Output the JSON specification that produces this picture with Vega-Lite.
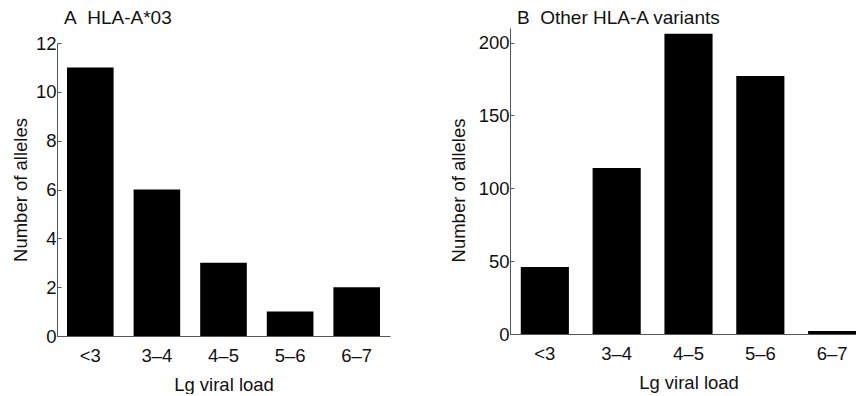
{
  "$schema": "https://vega.github.io/schema/vega-lite/v6.json",
  "background": "white",
  "padding": {"left": 11, "top": 9, "right": 0, "bottom": 0},
  "spacing": 59,
  "config": {
    "font": "Liberation Sans",
    "view": {"stroke": null},
    "axis": {
      "grid": false,
      "domainColor": "#555555",
      "tickColor": "#555555",
      "labelFont": "Liberation Sans",
      "titleFont": "Liberation Sans",
      "labelFontSize": 18.5,
      "titleFontSize": 18.5,
      "titleFontWeight": "normal",
      "labelColor": "#111111",
      "titleColor": "#111111"
    },
    "title": {"font": "Liberation Sans", "fontSize": 19, "fontWeight": "normal", "anchor": "start", "frame": "group", "color": "#111111"}
  },
  "hconcat": [
    {
      "width": 333,
      "height": 308,
      "title": {"text": "A\u00a0\u00a0HLA-A*03", "offset": 0, "dx": 7},
      "data": {"values": [
        {"load": "<3", "n": 11},
        {"load": "3–4", "n": 6},
        {"load": "4–5", "n": 3},
        {"load": "5–6", "n": 1},
        {"load": "6–7", "n": 2}
      ]},
      "mark": {"type": "bar", "color": "black"},
      "encoding": {
        "x": {"field": "load", "type": "nominal", "sort": null,
              "scale": {"paddingInner": 0.3, "paddingOuter": 0.15},
              "axis": {"title": "Lg viral load", "labelAngle": 0, "ticks": false, "labelPadding": 10, "titlePadding": 11}},
        "y": {"field": "n", "type": "quantitative",
              "scale": {"domain": [0, 12], "nice": false, "range": [308, 15]},
              "axis": {"title": "Number of alleles", "values": [0, 2, 4, 6, 8, 10, 12], "tickSize": -4, "labelPadding": 5, "titlePadding": 5}}
      }
    },
    {
      "width": 357,
      "height": 306,
      "title": {"text": "B\u00a0\u00a0Other HLA-A variants", "offset": 0, "dx": 7},
      "data": {"values": [
        {"load": "<3", "n": 46},
        {"load": "3–4", "n": 114},
        {"load": "4–5", "n": 206},
        {"load": "5–6", "n": 177},
        {"load": "6–7", "n": 2}
      ]},
      "mark": {"type": "bar", "color": "black"},
      "encoding": {
        "x": {"field": "load", "type": "nominal", "sort": null,
              "scale": {"paddingInner": 0.33, "paddingOuter": 0.15},
              "axis": {"title": "Lg viral load", "labelAngle": 0, "ticks": false, "labelPadding": 10, "titlePadding": 11}},
        "y": {"field": "n", "type": "quantitative",
              "scale": {"domain": [0, 210], "nice": false},
              "axis": {"title": "Number of alleles", "values": [0, 50, 100, 150, 200], "tickSize": -4, "labelPadding": 5, "titlePadding": 10, "titleY": 162}}
      }
    }
  ]
}
